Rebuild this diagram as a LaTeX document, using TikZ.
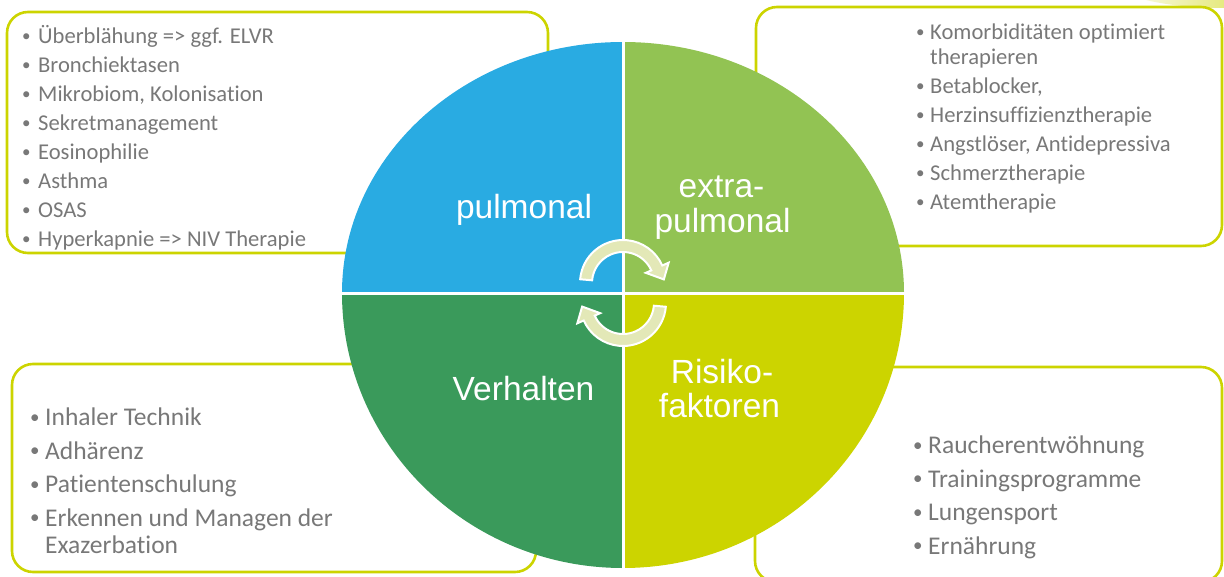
\documentclass[tikz,border=0pt]{standalone}
\usepackage{fontspec}
\setmainfont{Carlito}[Ligatures={NoCommon}]
\newfontfamily\labfont{Liberation Sans}
\definecolor{qblue}{RGB}{41,171,226}
\definecolor{qlgreen}{RGB}{146,195,83}
\definecolor{qdgreen}{RGB}{58,154,91}
\definecolor{qyellow}{RGB}{204,212,0}
\definecolor{boxline}{RGB}{204,212,0}
\definecolor{arrowfill}{RGB}{227,232,183}
\definecolor{txtgray}{RGB}{120,120,120}
\newcommand\bulA{\makebox[16pt][l]{\raisebox{1.8pt}{\fontsize{17}{17}\selectfont•}}}
\newcommand\bulB{\makebox[14pt][l]{\raisebox{1.8pt}{\fontsize{17}{17}\selectfont•}}}
\newcommand\bulC{\makebox[15pt][l]{\raisebox{2.2pt}{\fontsize{19}{19}\selectfont•}}}
\begin{document}
\begin{tikzpicture}[x=1pt,y=-1pt,
  boxstyle/.style={draw=boxline, line width=2.6pt, rounded corners=21pt},
  lab/.style={font=\labfont\fontsize{33.5}{38}\selectfont, text=white, inner sep=0pt, anchor=base},
  itemA/.style={font=\fontsize{22.6}{26}\selectfont, text=txtgray, inner sep=0pt, anchor=base west},
  itemB/.style={font=\fontsize{25.5}{29}\selectfont, text=txtgray, inner sep=0pt, anchor=base west},
  arrowstyle/.style={fill=arrowfill, draw=white, line width=2pt, line join=miter}]
\useasboundingbox (0,0) rectangle (1224,576);
\clip (0,0) rectangle (1224,576);
% decorative blob
\shade[left color=white, middle color=qyellow!70, right color=qyellow] (1224,-22) ellipse[x radius=115, y radius=30];
% boxes
\draw[boxstyle] (7,12) rectangle (548,253);
\draw[boxstyle] (756,7) rectangle (1222,246);
\draw[boxstyle] (12,364) rectangle (536,572);
\draw[boxstyle] (755,367) rectangle (1222,582);
% circle quadrants
\begin{scope}[shift={(623,293)}, yscale=-1]
  \fill[qblue] (0,0) -- (-281,0) arc[start angle=180, end angle=90, x radius=281, y radius=251] -- cycle;
  \fill[qlgreen] (0,0) -- (0,251) arc[start angle=90, end angle=0, x radius=281, y radius=251] -- cycle;
  \fill[qyellow] (0,0) -- (281,0) arc[start angle=0, end angle=-90, x radius=281, y radius=275] -- cycle;
  \fill[qdgreen] (0,0) -- (0,-275) arc[start angle=-90, end angle=-180, x radius=281, y radius=275] -- cycle;
  \draw[white, line width=3pt] (0,260) -- (0,-285);
  \draw[white, line width=3pt] (-290,0) -- (290,0);
  \begin{scope}[shift={(0,10)}]
    \path[arrowstyle] (175:43) arc[start angle=175, end angle=24, radius=43] -- (24:50) -- (5:41) -- (24:25) -- (24:31) arc[start angle=24, end angle=175, radius=31] -- cycle;
  \end{scope}
  \begin{scope}[rotate=180, shift={(0,10)}]
    \path[arrowstyle] (175:43) arc[start angle=175, end angle=24, radius=43] -- (24:50) -- (5:41) -- (24:25) -- (24:31) arc[start angle=24, end angle=175, radius=31] -- cycle;
  \end{scope}
\end{scope}
% labels
\node[lab] (pul) at (524,218) {pulmonal};
\node[lab] (ex1) at (721.5,197) {extra-};
\node[lab] (ex2) at (722.5,232) {pulmonal};
\node[lab] (verh) at (523.5,400) {Verhalten};
\node[lab] (ris1) at (722,383) {Risiko-};
\node[lab] (ris2) at (719.5,417) {faktoren};
% top-left list
\foreach \yy/\t [count=\i] in {43/{Überblähung => ggf. ELVR}, 72/{Bronchiektasen}, 101/{Mikrobiom, Kolonisation}, 130/{Sekretmanagement}, 159/{Eosinophilie}, 188/{Asthma}, 217/{OSAS}, 246/{Hyperkapnie => NIV Therapie}}
  \node[itemA] (tl\i) at (22,\yy) {\bulA\t};
% top-right list
\node[itemA] (tr1) at (916,39) {\bulB Komorbiditäten optimiert};
\node[itemA] (tr2) at (916,64) {\hspace*{14pt}therapieren};
\foreach \yy/\t [count=\i from 3] in {93/{Betablocker,}, 122/{Herzinsuffizienztherapie}, 151/{Angstlöser, Antidepressiva}, 180/{Schmerztherapie}, 209/{Atemtherapie}}
  \node[itemA] (tr\i) at (916,\yy) {\bulB\t};
% bottom-left list
\foreach \yy/\t [count=\i] in {425.5/{Inhaler Technik}, 459/{Adhärenz}, 492.5/{Patientenschulung}, 526/{Erkennen und Managen der}}
  \node[itemB] (bl\i) at (30,\yy) {\bulC\t};
\node[itemB] (bl5) at (30,553) {\hspace*{15pt}Exazerbation};
% bottom-right list
\foreach \yy/\t [count=\i] in {453.5/{Raucherentwöhnung}, 487/{Trainingsprogramme}, 520.5/{Lungensport}, 554/{Ernährung}}
  \node[itemB] (br\i) at (913,\yy) {\bulC\t};
\end{tikzpicture}
\end{document}
